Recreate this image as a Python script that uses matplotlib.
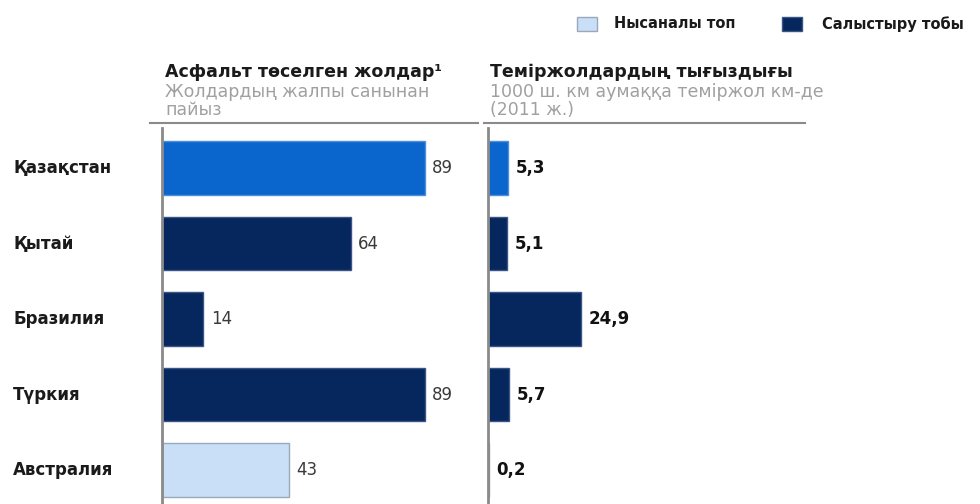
import matplotlib.pyplot as plt
from matplotlib.patches import Rectangle
from matplotlib.lines import Line2D

plt.rcParams['font.family'] = ['DejaVu Sans']

# Деректер
елдер = ["Қазақстан", "Қытай", "Бразилия", "Түркия", "Австралия"]
асфальт = [89, 64, 14, 89, 43]
темиржол = [5.3, 5.1, 24.9, 5.7, 0.2]
асфальт_белгі = ["89", "64", "14", "89", "43"]
темиржол_белгі = ["5,3", "5,1", "24,9", "5,7", "0,2"]
топ = ["kz", "cmp", "cmp", "cmp", "target"]

түстер = {"kz": "#0A66CC", "cmp": "#06265E", "target": "#C8DFF7"}
жиек = {"kz": "#4F8FDA", "cmp": "#3A5585", "target": "#9AA8B8"}

W, H = 980, 504
fig = plt.figure(figsize=(W / 100, H / 100), dpi=100)


def px_axes(x0, y0, w, h):
    return fig.add_axes([x0 / W, 1 - (y0 + h) / H, w / W, h / H])


def панель(ax, мәндер, белгілер, xmax, bold):
    y = range(len(мәндер))
    ax.barh(y, мәндер, height=0.71,
            color=[түстер[t] for t in топ],
            edgecolor=[жиек[t] for t in топ], linewidth=1.0)
    ax.set_xlim(0, xmax)
    ax.set_ylim(4.45, -0.53)
    for i, (v, s) in enumerate(zip(мәндер, белгілер)):
        ax.text(v + xmax * 0.024, i, s, va="center", ha="left",
                fontsize=12, color="#111111" if bold else "#3A3A3A",
                fontweight="bold" if bold else "normal")
    for sp in ["top", "right", "bottom"]:
        ax.spines[sp].set_visible(False)
    ax.spines["left"].set_color("#8A8A8A")
    ax.spines["left"].set_linewidth(2)
    ax.set_xticks([])
    ax.set_yticks([])


ax1 = px_axes(162, 128, 310, 376)
панель(ax1, асфальт, асфальт_белгі, 310 / 2.95, False)

ax2 = px_axes(488, 128, 320, 376)
панель(ax2, темиржол, темиржол_белгі, 320 / 3.75, True)

# Ел атаулары
for i, name in enumerate(елдер):
    fig.text(13 / W, 1 - (168 + i * 75.5) / H, name, ha="left", va="center",
             fontsize=12, fontweight="bold", color="#1A1A1A")

# Панель тақырыптары
fig.text(165 / W, 1 - 72 / H, "Асфальт төселген жолдар¹", fontsize=12.5,
         fontweight="bold", color="#1A1A1A", va="center")
fig.text(165 / W, 1 - 101 / H, "Жолдардың жалпы санынан\nпайыз", fontsize=12.5,
         color="#A0A0A0", va="center", linespacing=1.0)
fig.text(490 / W, 1 - 72 / H, "Теміржолдардың тығыздығы", fontsize=12.5,
         fontweight="bold", color="#1A1A1A", va="center")
fig.text(490 / W, 1 - 101 / H, "1000 ш. км аумаққа теміржол км-де\n(2011 ж.)",
         fontsize=12.5, color="#A0A0A0", va="center", linespacing=1.0)

for x0, x1 in [(150, 478), (484, 805)]:
    fig.add_artist(Line2D([x0 / W, x1 / W], [1 - 123 / H, 1 - 123 / H],
                          color="#8A8A8A", linewidth=1.5))

# Шартты белгілер
for x0, key, label, tx in [(577, "target", "Нысаналы топ", 614),
                           (782, "cmp", "Салыстыру тобы", 822)]:
    fig.add_artist(Rectangle((x0 / W, 1 - 31 / H), 20 / W, 14 / H,
                             facecolor=түстер[key], edgecolor=жиек[key],
                             linewidth=1, transform=fig.transFigure))
    fig.text(tx / W, 1 - 24 / H, label, fontsize=10.5, fontweight="bold",
             color="#1A1A1A", va="center")

fig.savefig("out.png", dpi=100, facecolor="white")
